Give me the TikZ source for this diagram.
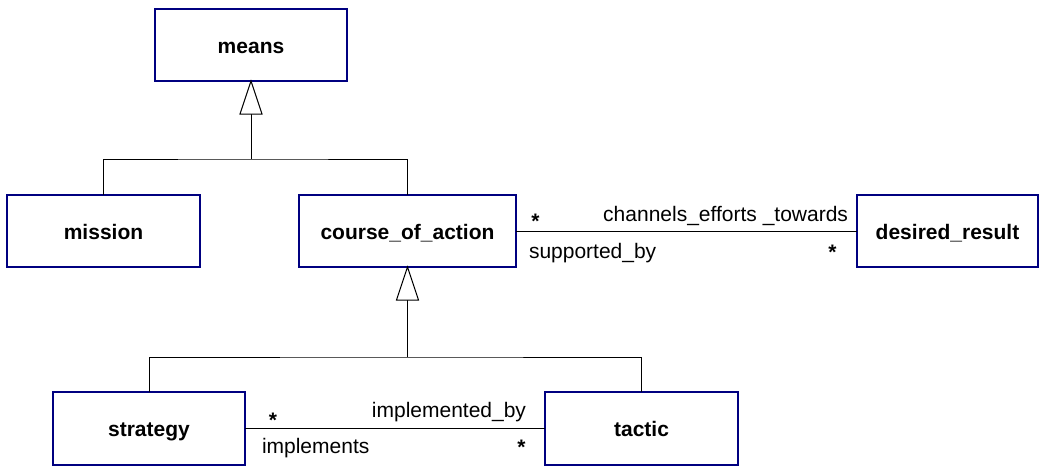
\documentclass[tikz,border=0pt]{standalone}
\usepackage{fontspec}
\setmainfont{Liberation Sans}
\usetikzlibrary{calc}
\definecolor{boxblue}{RGB}{0,0,128}
\tikzset{
  cls/.style={draw=boxblue, line width=2pt, fill=white, inner sep=0pt, outer sep=0pt,
    text height=16pt, text depth=0pt, font=\fontsize{21}{25}\selectfont\bfseries},
  conn/.style={draw=black, line width=1pt},
  gen/.style={draw=black, line width=1pt, fill=white, line join=miter},
  lbl/.style={inner sep=0pt, outer sep=0pt, font=\fontsize{21}{25}\selectfont},
  mult/.style={inner sep=0pt, outer sep=0pt, anchor=base, font=\fontsize{21}{25}\selectfont\bfseries},
}
\begin{document}
\begin{tikzpicture}[x=1pt, y=-1pt]
\useasboundingbox (0,0) rectangle (1040,466);
% classes
\node[cls, minimum width=192pt, minimum height=72pt] (means) at (251,45) {means};
\node[cls, minimum width=193pt, minimum height=72pt] (mission) at (103.5,231) {mission};
\node[cls, minimum width=217pt, minimum height=72pt] (coa) at (407.5,231) {course\_of\_action};
\node[cls, minimum width=181pt, minimum height=72pt] (dr) at (947.5,231) {desired\_result};
\node[cls, minimum width=192pt, minimum height=73pt] (strategy) at (149,428.5) {strategy};
\node[cls, minimum width=193pt, minimum height=73pt] (tactic) at (641.5,428.5) {tactic};
% generalization 1
\coordinate (j1) at (251,159);
\coordinate (b1) at ($(means.south)+(0,33)$);
\draw[conn] (b1) -- (j1);
\draw[conn] (mission.north) |- (j1) -| (coa.north);
\draw[gen] (means.south) -- ++(-11,33) -- ++(22,0) -- cycle;
% generalization 2
\coordinate (j2) at (407.5,357);
\coordinate (b2) at ($(coa.south)+(0,33)$);
\draw[conn] (b2) -- (j2);
\draw[conn] (strategy.north) |- (j2) -| (tactic.north);
\draw[gen] (coa.south) -- ++(-11,33) -- ++(22,0) -- cycle;
% associations
\draw[conn] (coa.east) -- (dr.west);
\draw[conn] (strategy.east) -- (tactic.west);
% association labels
\node[mult] (s1) at (535.5,228) {*};
\node[lbl, anchor=base east] (l1) at (848,221) {channels\_efforts \_towards};
\node[lbl, anchor=base west] (l2) at (529,258) {supported\_by};
\node[mult] (s2) at (832.5,259) {*};
\node[mult] (s3) at (273,427) {*};
\node[lbl, anchor=base east] (l3) at (526,417) {implemented\_by};
\node[lbl, anchor=base west] (l4) at (262,453) {implements};
\node[mult] (s4) at (521.5,454) {*};
\end{tikzpicture}
\end{document}
